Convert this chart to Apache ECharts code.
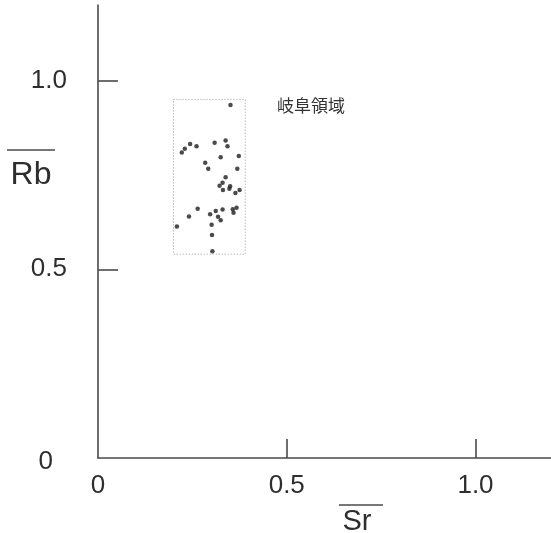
<!DOCTYPE html>
<html>
<head>
<meta charset="utf-8">
<style>
  html, body { margin: 0; padding: 0; background: #ffffff; }
  #chart { width: 551px; height: 533px; }
</style>
<script src="https://cdn.jsdelivr.net/npm/echarts@6/dist/echarts.min.js"></script>
</head>
<body>
<div id="chart"></div>
<script>
// Normalised Sr (x) and Rb (y) values of the Gifu samples
const srValues = [0.351, 0.209, 0.222, 0.230, 0.244, 0.261, 0.309, 0.338, 0.343, 0.373,
                  0.325, 0.284, 0.292, 0.369, 0.338, 0.330, 0.322, 0.331, 0.350, 0.348,
                  0.375, 0.364, 0.264, 0.241, 0.297, 0.312, 0.330, 0.357, 0.367, 0.359,
                  0.318, 0.325, 0.301, 0.302, 0.303];
const rbValues = [0.935, 0.613, 0.809, 0.819, 0.832, 0.826, 0.835, 0.841, 0.826, 0.800,
                  0.797, 0.782, 0.766, 0.766, 0.744, 0.729, 0.721, 0.710, 0.720, 0.713,
                  0.710, 0.702, 0.660, 0.640, 0.646, 0.654, 0.658, 0.659, 0.663, 0.650,
                  0.639, 0.630, 0.618, 0.591, 0.548];

// Extent of the Gifu region box: [Sr min, Sr max], [Rb min, Rb max]
const regionSr = [0.2, 0.39];
const regionRb = [0.54, 0.95];
const regionName = '岐阜領域';

// Axis ticks and labels
const tickValues = [0.5, 1.0];
const labelValues = [0, 0.5, 1.0];
const axisMax = 1.2;

const points = srValues.map((x, i) => [x, rbValues[i]]);

const AXIS_COLOR = '#4a4a4a';
const TEXT_COLOR = '#2e2e2e';
const LABEL_FONT = '"Liberation Sans", Arial, sans-serif';

const chart = echarts.init(document.getElementById('chart'), null, { renderer: 'canvas' });

chart.setOption({
  backgroundColor: '#ffffff',
  animation: false,
  grid: { left: 98, top: 5, width: 455, height: 453 },
  xAxis: {
    type: 'value',
    min: 0,
    max: axisMax,
    splitLine: { show: false },
    axisLine: { show: true, lineStyle: { color: AXIS_COLOR, width: 1.6 } },
    axisTick: { show: true, inside: true, length: 19, customValues: tickValues,
                lineStyle: { color: AXIS_COLOR, width: 1.6 } },
    axisLabel: {
      customValues: labelValues,
      margin: 15,
      fontSize: 26,
      fontFamily: LABEL_FONT,
      color: TEXT_COLOR,
      formatter: v => (v === 0 ? '0' : v.toFixed(1))
    }
  },
  yAxis: {
    type: 'value',
    min: 0,
    max: axisMax,
    splitLine: { show: false },
    axisLine: { show: true, lineStyle: { color: AXIS_COLOR, width: 1.6 } },
    axisTick: { show: true, inside: true, length: 20, customValues: tickValues,
                lineStyle: { color: AXIS_COLOR, width: 1.6 } },
    axisLabel: {
      customValues: labelValues,
      margin: 31,
      fontSize: 26,
      fontFamily: LABEL_FONT,
      color: TEXT_COLOR,
      formatter: v => (v === 0 ? '{z|0}' : v.toFixed(1)),
      rich: {
        z: { fontSize: 26, fontFamily: LABEL_FONT, color: TEXT_COLOR, padding: [8, 14, 0, 0] }
      }
    }
  },
  series: [{
    type: 'scatter',
    data: points,
    symbol: 'circle',
    symbolSize: 4.5,
    itemStyle: { color: '#1e1e1e' },
    markArea: {
      silent: true,
      itemStyle: {
        color: 'rgba(0,0,0,0)',
        borderColor: '#9a9a9a',
        borderWidth: 1,
        borderType: [1, 2]
      },
      label: { show: false },
      data: [[
        { coord: [regionSr[0], regionRb[1]] },
        { coord: [regionSr[1], regionRb[0]] }
      ]]
    }
  }],
  graphic: [
    // Region caption
    {
      type: 'text', left: 277, top: 97,
      style: { text: regionName, fontSize: 17, fontFamily: '"Noto Sans CJK JP", sans-serif',
               fill: '#333333' }
    },
    // Y axis title with overbar
    {
      type: 'text', x: 31, y: 175,
      style: { text: 'Rb', fontSize: 32, fontFamily: LABEL_FONT, fill: TEXT_COLOR,
               align: 'center', verticalAlign: 'middle' }
    },
    {
      type: 'line', shape: { x1: 7, y1: 150, x2: 55, y2: 150 },
      style: { stroke: AXIS_COLOR, lineWidth: 1.6 }
    },
    // X axis title with overbar
    {
      type: 'text', x: 357, y: 522,
      style: { text: 'Sr', fontSize: 29, fontFamily: LABEL_FONT, fill: TEXT_COLOR,
               align: 'center', verticalAlign: 'middle' }
    },
    {
      type: 'line', shape: { x1: 339, y1: 505, x2: 383, y2: 505 },
      style: { stroke: AXIS_COLOR, lineWidth: 1.6 }
    }
  ]
});
</script>
</body>
</html>
